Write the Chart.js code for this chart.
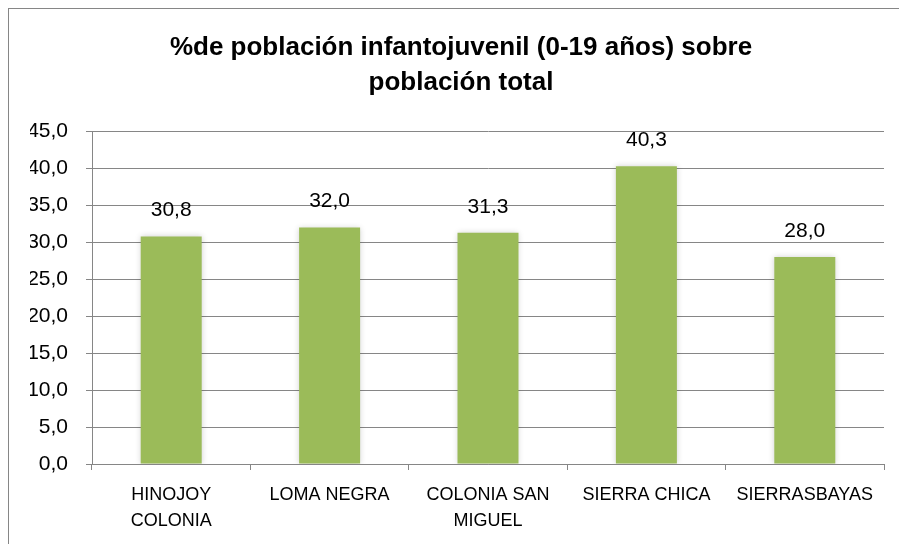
<!DOCTYPE html>
<html>
<head>
<meta charset="utf-8">
<script src="https://cdn.jsdelivr.net/npm/chart.js@4.4.1/dist/chart.umd.min.js"></script>
<style>
  html, body { margin: 0; padding: 0; background: #ffffff; }
  #c { display: block; }
</style>
</head>
<body>
<canvas id="c" width="899" height="544"></canvas>
<script>
const titleLines = ['%de población infantojuvenil (0-19 años) sobre', 'población total'];
const categories = [
  ['HINOJOY', 'COLONIA'],
  ['LOMA NEGRA'],
  ['COLONIA SAN', 'MIGUEL'],
  ['SIERRA CHICA'],
  ['SIERRASBAYAS']
];
const values = [30.8, 32.0, 31.3, 40.3, 28.0];
const yMin = 0, yMax = 45, yStep = 5;

const fmt = v => Number(v).toFixed(1).replace('.', ',');
const FONT = "'Liberation Sans', Arial, sans-serif";

const frame = {
  id: 'frame',
  beforeDraw(chart) {
    const ctx = chart.ctx;
    ctx.save();
    ctx.fillStyle = '#ffffff';
    ctx.fillRect(0, 0, chart.width, chart.height);
    ctx.strokeStyle = '#868686';
    ctx.lineWidth = 1;
    ctx.strokeRect(8.5, 8.5, chart.width + 20, chart.height + 20);
    ctx.restore();
  }
};

const barShadow = {
  id: 'barShadow',
  beforeDatasetsDraw(chart) {
    const ctx = chart.ctx;
    ctx.save();
    ctx.shadowColor = 'rgba(0,0,0,0.18)';
    ctx.shadowBlur = 6;
    ctx.shadowOffsetX = 0;
    ctx.shadowOffsetY = 0;
  },
  afterDatasetsDraw(chart) {
    chart.ctx.restore();
  }
};

const valueLabels = {
  id: 'valueLabels',
  afterDatasetsDraw(chart) {
    const ctx = chart.ctx;
    ctx.save();
    ctx.font = '21px ' + FONT;
    ctx.fillStyle = '#000000';
    ctx.textAlign = 'center';
    ctx.textBaseline = 'middle';
    chart.getDatasetMeta(0).data.forEach((bar, i) => {
      ctx.fillText(fmt(values[i]), bar.x, bar.y - 26);
    });
    ctx.restore();
  }
};

new Chart(document.getElementById('c'), {
  type: 'bar',
  data: {
    labels: categories,
    datasets: [{
      data: values,
      backgroundColor: '#9BBB59',
      borderWidth: 0,
      categoryPercentage: 1.0,
      barPercentage: 0.385
    }]
  },
  options: {
    responsive: false,
    animation: false,
    devicePixelRatio: 1,
    layout: { padding: { left: 30, right: 7, top: 0, bottom: 8 } },
    plugins: {
      legend: { display: false },
      tooltip: { enabled: false },
      title: {
        display: true,
        text: titleLines,
        color: '#000000',
        font: { family: FONT, size: 26, weight: 'bold', lineHeight: 35 / 26 },
        padding: { top: 30.5, bottom: 31 }
      }
    },
    scales: {
      x: {
        offset: true,
        grid: {
          display: true,
          drawOnChartArea: false,
          drawTicks: true,
          tickLength: 6,
          offset: true,
          color: '#868686'
        },
        border: { display: true, color: '#868686', width: 1 },
        ticks: {
          color: '#000000',
          font: { family: FONT, size: 18, lineHeight: 26 / 18 },
          padding: 12,
          maxRotation: 0,
          autoSkip: false
        },
        afterFit(scale) { scale.height = 72; }
      },
      y: {
        min: yMin,
        max: yMax,
        ticks: {
          stepSize: yStep,
          color: '#000000',
          font: { family: FONT, size: 21 },
          padding: 18,
          callback: v => fmt(v)
        },
        grid: {
          color: '#868686',
          tickLength: 6,
          drawTicks: true
        },
        border: { display: true, color: '#868686', width: 1 },
        afterFit(scale) { scale.width = 62; }
      },
      yR: {
        position: 'right',
        display: true,
        grid: { display: false, drawTicks: false },
        border: { display: false },
        ticks: { display: false },
        afterFit(scale) { scale.width = 8; }
      }
    }
  },
  plugins: [frame, barShadow, valueLabels]
});
</script>
</body>
</html>
